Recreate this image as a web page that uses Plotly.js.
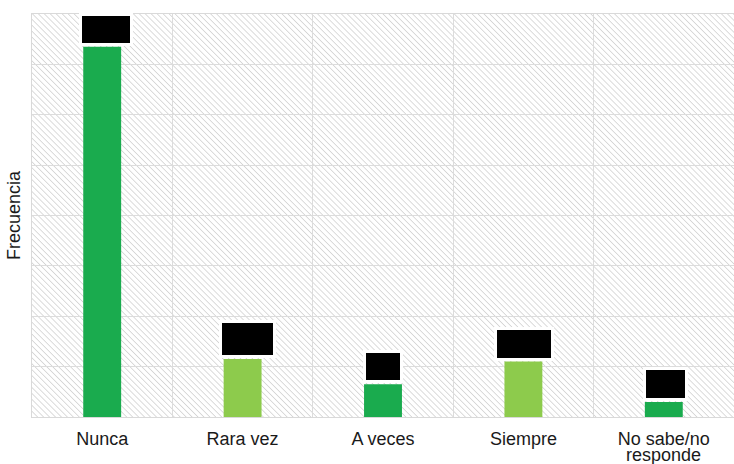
<!DOCTYPE html>
<html>
<head>
<meta charset="utf-8">
<script src="https://cdn.plot.ly/plotly-3.0.1.min.js"></script>
<style>html,body{margin:0;padding:0;background:#fff;}#chart{width:734px;height:464px;}</style>
</head>
<body>
<div id="chart"></div>
<script>
// ---- data ----
var categories = ['Nunca', 'Rara vez', 'A veces', 'Siempre', 'No sabe/no responde'];
var tickLine1 = ['Nunca', 'Rara vez', 'A veces', 'Siempre', 'No sabe/no'];
var tickLine2 = ['', '', '', '', 'responde'];
var frecuencia = [147, 23, 13, 22, 6];

// ---- styles ----
var darkGreen = '#1aab4e';
var lightGreen = '#8dcb4c';
var barColors = [darkGreen, lightGreen, darkGreen, lightGreen, darkGreen];
var boxWidths = [48, 51, 34, 54, 39];
var boxHeights = [27, 32, 27, 28, 28];
var boxShift = [4, 5, 0, 1, 1.5];

var hatchSvg = '<svg xmlns="http://www.w3.org/2000/svg" width="702" height="403">' +
  '<defs><pattern id="h" width="4.2" height="4.2" patternUnits="userSpaceOnUse" patternTransform="rotate(-45)">' +
  '<rect width="4.2" height="4.2" fill="#ffffff"/>' +
  '<line x1="0" y1="0" x2="0" y2="4.2" stroke="#cdcdcd" stroke-width="1.4"/></pattern></defs>' +
  '<rect width="702" height="403" fill="url(#h)"/></svg>';
var hatchUri = 'data:image/svg+xml;charset=utf-8,' + encodeURIComponent(hatchSvg);

var trace = {
  type: 'bar',
  x: categories,
  y: frecuencia,
  width: 0.27,
  marker: {color: barColors, line: {width: 0}},
  hoverinfo: 'x+y'
};

var annotations = [];
categories.forEach(function (c, i) {
  annotations.push({
    x: c, y: frecuencia[i], xref: 'x', yref: 'y',
    text: String(frecuencia[i]),
    showarrow: false,
    xanchor: 'center', yanchor: 'bottom',
    xshift: boxShift[i], yshift: 1,
    width: boxWidths[i], height: boxHeights[i],
    bgcolor: '#000000', bordercolor: '#ffffff', borderwidth: 3, borderpad: 0,
    font: {family: 'Liberation Sans, Arial, sans-serif', size: 14, color: '#000000'}
  });
  if (tickLine2[i]) {
    annotations.push({
      x: c, y: 0, xref: 'x', yref: 'paper',
      text: tickLine2[i], showarrow: false,
      xanchor: 'center', yanchor: 'top', yshift: -27, borderpad: 0,
      font: {family: 'Liberation Sans, Arial, sans-serif', size: 18, color: '#1a1a1a'}
    });
  }
});

var layout = {
  width: 734, height: 464,
  margin: {l: 32, r: 0, t: 14, b: 47, pad: 0},
  paper_bgcolor: '#ffffff',
  plot_bgcolor: 'rgba(0,0,0,0)',
  showlegend: false,
  font: {family: 'Liberation Sans, Arial, sans-serif', size: 18, color: '#1a1a1a'},
  xaxis: {
    type: 'category',
    tickmode: 'array', tickvals: categories, ticktext: tickLine1,
    tickson: 'boundaries', ticks: '',
    ticklabelstandoff: 5,
    showgrid: true, gridcolor: '#dcdcdc', gridwidth: 1,
    showline: true, linecolor: '#d9d9d9', linewidth: 1, mirror: true,
    tickfont: {size: 18, color: '#1a1a1a'},
    fixedrange: true
  },
  yaxis: {
    range: [0, 160], dtick: 20, tick0: 0,
    showticklabels: false, ticks: '',
    showgrid: true, gridcolor: '#dcdcdc', gridwidth: 1,
    zeroline: false,
    showline: true, linecolor: '#d9d9d9', linewidth: 1, mirror: true,
    title: {text: 'Frecuencia', font: {size: 18, color: '#1a1a1a'}, standoff: 5},
    automargin: false,
    fixedrange: true
  },
  images: [{
    source: hatchUri, xref: 'paper', yref: 'paper',
    x: 0, y: 1, sizex: 1, sizey: 1, xanchor: 'left', yanchor: 'top',
    sizing: 'stretch', layer: 'below'
  }],
  annotations: annotations
};

Plotly.newPlot('chart', [trace], layout, {displayModeBar: false, staticPlot: true});
</script>
</body>
</html>
